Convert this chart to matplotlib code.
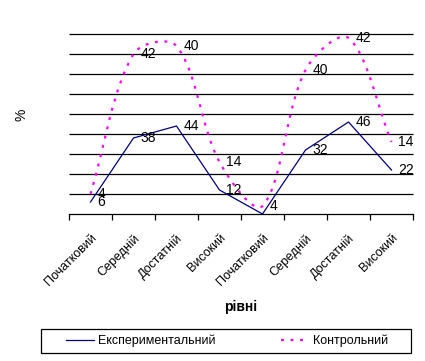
import numpy as np
import matplotlib.pyplot as plt
import matplotlib.transforms as mtransforms
from matplotlib.patches import Rectangle

# рівні (категорії) та значення, %
categories = ["Початковий", "Середній", "Достатній", "Високий",
              "Початковий", "Середній", "Достатній", "Високий"]
experimental = [6, 38, 44, 12, 0, 32, 46, 22]
control = [4, 42, 40, 14, 4, 40, 42, 14]
grid_levels = [10, 20, 30, 40, 50, 60, 70, 80, 90]


def smooth(x, y, sx=43.0, sy=2.0, n=40):
    # згладжування в стилі Excel: Безьє з дотичними, зваженими довжиною хорд
    P = np.column_stack([np.asarray(x, float) * sx, np.asarray(y, float) * sy])
    P = np.vstack([P[0], P, P[-1]])
    t = np.linspace(0, 1, n)[:, None]
    pts = []
    for i in range(1, len(P) - 2):
        p0, p1, p2, p3 = P[i - 1], P[i], P[i + 1], P[i + 2]
        l01 = np.linalg.norm(p1 - p0)
        l12 = np.linalg.norm(p2 - p1)
        l23 = np.linalg.norm(p3 - p2)
        c1 = p1 + (p2 - p0) * (l12 / (l01 + l12) / 3 if l01 + l12 else 0)
        c2 = p2 - (p3 - p1) * (l12 / (l12 + l23) / 3 if l12 + l23 else 0)
        seg = ((1 - t) ** 3 * p1 + 3 * (1 - t) ** 2 * t * c1
               + 3 * (1 - t) * t ** 2 * c2 + t ** 3 * p2)
        pts.append(seg)
    pts = np.vstack(pts)
    return pts[:, 0] / sx, pts[:, 1] / sy


plt.rcParams['font.family'] = ['Liberation Sans Narrow', 'Liberation Sans', 'DejaVu Sans']

fig = plt.figure(figsize=(4.25, 3.61), dpi=100)
ax = fig.add_axes([69 / 425, 1 - 214 / 361, 344 / 425, 180 / 361])

x = np.arange(len(categories))
stacked = np.array(experimental) + np.array(control)

ax.hlines(grid_levels, -0.5, len(categories) - 0.5, colors="black", linewidth=0.9,
          clip_on=False, zorder=1)

ax.plot(x, experimental, color="#000080", linewidth=0.9, label="Експериментальний", zorder=3)
sx, sy = smooth(x, stacked)
ax.plot(sx, sy, color="#ff00ff", linewidth=1.6, linestyle=(0, (1.3, 3.0)),
        label="Контрольний", zorder=3)

for xi, v in zip(x, experimental):
    if v:
        ax.annotate(str(v), (xi, v), xytext=(5, 0), textcoords="offset points",
                    va="center", ha="left", fontsize=10)
for xi, v, s in zip(x, control, stacked):
    ax.annotate(str(v), (xi, s), xytext=(5, 0), textcoords="offset points",
                va="center", ha="left", fontsize=10)

ax.set_xlim(-0.5, len(categories) - 0.5)
ax.set_ylim(0, 90)
ax.set_xticks(np.arange(len(categories) + 1) - 0.5)
ax.set_xticklabels([])
ax.set_xticks(x, minor=True)
ax.set_xticklabels(categories, minor=True, rotation=45, ha="right", va="top",
                   rotation_mode="anchor", fontsize=9)
shift = mtransforms.ScaledTranslation(-12 / 100, 0, fig.dpi_scale_trans)
for lab in ax.xaxis.get_minorticklabels():
    lab.set_transform(lab.get_transform() + shift)
ax.tick_params(axis="x", which="major", length=4, width=0.9, direction="out")
ax.tick_params(axis="x", which="minor", length=0, pad=13)
ax.set_yticks([])
for side in ("left", "right", "top"):
    ax.spines[side].set_visible(False)
ax.spines["bottom"].set_linewidth(0.9)

ax.set_xlabel("рівні", fontweight="bold", fontsize=10)
ax.xaxis.set_label_coords(0.5, (214 - 300) / 180)
fig.text(22 / 425, 1 - 115 / 361, "%", rotation=90, ha="center", va="center", fontsize=10)

# рамка легенди
fig.patches.append(Rectangle((41 / 425, 1 - 353 / 361), 370 / 425, 24 / 361,
                             transform=fig.transFigure, fill=False,
                             edgecolor="black", linewidth=0.9))
leg = fig.legend(loc="center", bbox_to_anchor=(227 / 425, 1 - 341 / 361),
                 ncol=2, fontsize=9, frameon=False, handlelength=2.2,
                 handletextpad=0.3, columnspacing=5.3, borderaxespad=0)

fig.savefig("out.png", dpi=100)
